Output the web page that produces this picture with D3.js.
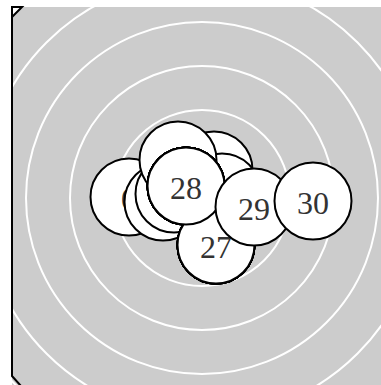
<!DOCTYPE html>
<html><head><meta charset="utf-8">
<script src="https://cdn.jsdelivr.net/npm/d3@7"></script>
<style>html,body{margin:0;padding:0;background:#fff;overflow:hidden}</style>
</head><body>
<script>
// node labels, in drawing order (later ones on top)
const nodeLabels = ["0","1","2","3","4","5","6","7","8","9","10","11","12","13","14","15","16","17","18","19","20","21","22","23","24","25","26","27","28","29","30"];
// node positions in layout units (centre of radial layout = 0,0)
const nodeX = [-73,-39,12,20,-28,-24,-16,-16,-16,-16,-16,-16,-16,-16,-16,-16,14,14,14,14,14,14,14,14,14,14,14,14,-16,52,111];
const nodeY = [-1,4,-28,-6,-4,-38,-12,-12,-12,-12,-12,-12,-12,-12,-12,-12,47,47,47,47,47,47,47,47,47,47,47,47,-12,9,3];
const ringSteps = [1,2,3,4,5,6];

const W = 381, H = 385;
const cx = 202, cy = 198, ringUnit = 44, nodeR = 38.5;

const svg = d3.select("body").append("svg").attr("width", W).attr("height", H);

svg.append("rect").attr("x", 12).attr("y", 7).attr("width", 420).attr("height", 420).attr("fill", "#cccccc");

const x = d3.scaleLinear().domain([0, 1]).range([cx, cx + 1]);
const y = d3.scaleLinear().domain([0, 1]).range([cy, cy + 1]);
const r = d3.scaleLinear().domain([0, 1]).range([0, ringUnit]);

svg.append("g").selectAll("circle").data(ringSteps).join("circle")
  .attr("cx", cx).attr("cy", cy).attr("r", d => r(d))
  .attr("fill", "none").attr("stroke", "#fff").attr("stroke-width", 2);

// frame edge
svg.append("path").attr("d", "M12,7 L12,376 L21,386").attr("fill", "none").attr("stroke", "#000").attr("stroke-width", 2);
svg.append("path").attr("d", "M12,7 L22,7 L12,17 Z").attr("fill", "#fff").attr("stroke", "#000").attr("stroke-width", 2);

const nodes = nodeLabels.map((l, i) => ({label: l, x: nodeX[i], y: nodeY[i]}));
const g = svg.append("g").selectAll("g").data(nodes).join("g")
  .attr("transform", d => `translate(${x(d.x)},${y(d.y)})`);
g.append("circle").attr("r", nodeR).attr("fill", "#fff").attr("stroke", "#000").attr("stroke-width", 2);
g.append("text").text(d => d.label)
  .attr("text-anchor", "middle").attr("dy", "0.42em")
  .attr("font-family", "'Liberation Serif', 'Times New Roman', serif")
  .attr("font-size", 32).attr("fill", "#333");
</script>
</body></html>
